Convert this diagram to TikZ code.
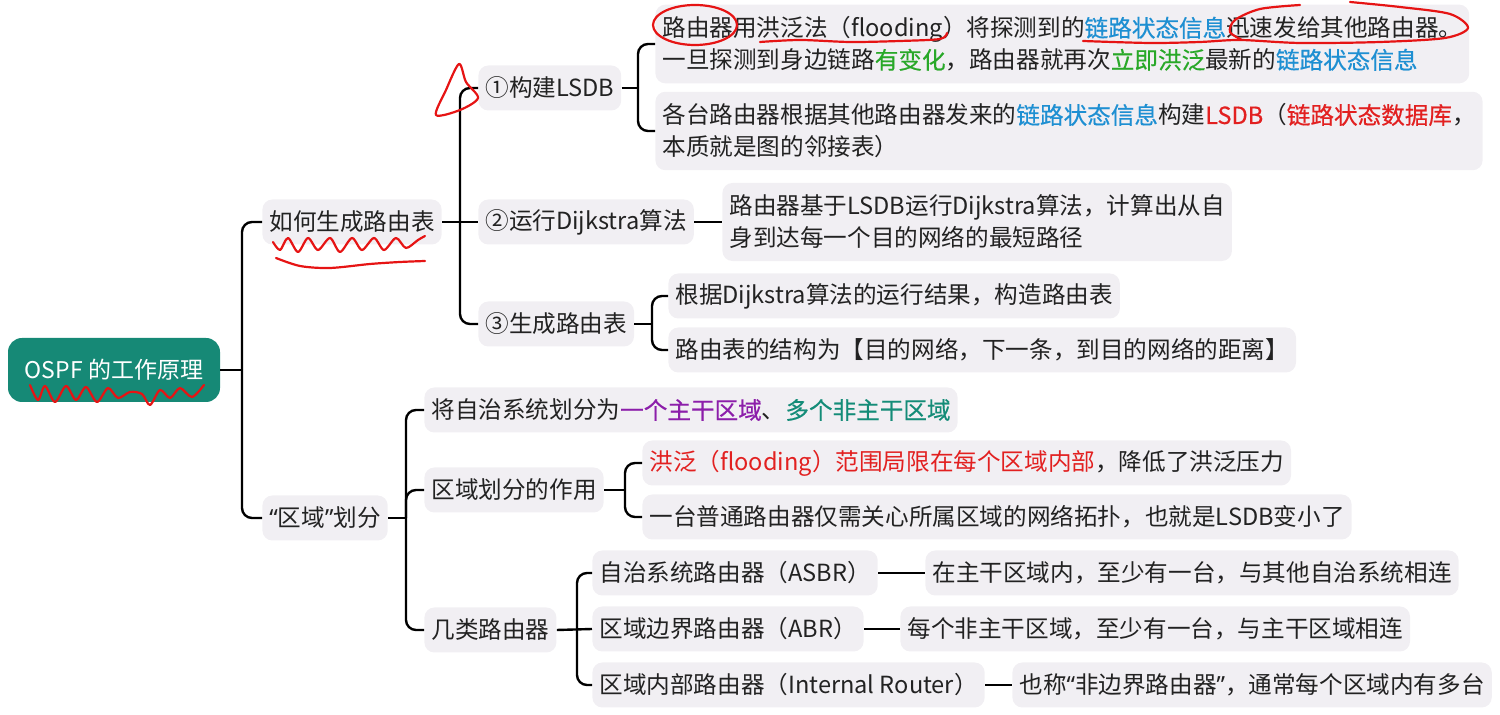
\documentclass[tikz,border=0pt]{standalone}
\usepackage{fontspec}
\setmainfont{Noto Sans CJK SC}
\newfontface\medfont{Noto Sans CJK SC}[FakeBold=0.45]
\newfontface\qfont{Noto Sans}
\usetikzlibrary{calc}
\definecolor{rootfill}{RGB}{22,137,118}
\definecolor{boxfill}{RGB}{241,239,243}
\definecolor{ctext}{RGB}{34,34,34}
\definecolor{cblue}{RGB}{30,143,210}
\definecolor{cgreen}{RGB}{40,168,40}
\definecolor{cred}{RGB}{226,32,32}
\definecolor{cpurple}{RGB}{140,30,170}
\definecolor{cteal}{RGB}{20,140,120}
\definecolor{annred}{RGB}{230,20,20}
\newcommand{\hl}[2]{\textcolor{#1}{\medfont #2}}
\newcommand{\oq}{{\qfont “}}
\newcommand{\cq}{{\qfont ”}}
\tikzset{
  box/.style={fill=boxfill, rounded corners=5pt, inner xsep=3.5pt, inner ysep=0pt,
    minimum height=22.5pt, text=ctext, font=\fontsize{11.8}{16}\selectfont, anchor=west},
  mbox/.style={box, align=left, inner ysep=6pt, minimum height=0pt},
  rootbox/.style={fill=rootfill, rounded corners=7pt, text=white, minimum width=106pt,
    minimum height=32pt, font=\fontsize{11.5}{14}\selectfont},
  conn/.style={line width=1.2pt, rounded corners=5pt},
  ann/.style={draw=annred, line width=1.1pt, line cap=round, line join=round},
}
\begin{document}
\begin{tikzpicture}[x=0.5pt,y=-0.5pt]
\useasboundingbox (0,0) rectangle (1500,715);
% nodes
\node[rootbox] (root) at (114,370) {OSPF 的工作原理};
\node[box] (c1) at (262,222) {如何生成路由表};
\node[box] (c2) at (262,518) {\oq 区域\cq 划分};
\node[box] (a1) at (478,88) {①构建LSDB};
\node[box] (a2) at (478,222) {②运行Dijkstra算法};
\node[box] (a3) at (478,324) {③生成路由表};
\node[mbox] (a1t1) at (655,44) {路由器用洪泛法（flooding）将探测到的\hl{cblue}{链路状态信息}迅速发给其他路由器。\\一旦探测到身边链路\hl{cgreen}{有变化}，路由器就再次\hl{cgreen}{立即洪泛}最新的\hl{cblue}{链路状态信息}};
\node[mbox] (a1t2) at (655,131) {各台路由器根据其他路由器发来的\hl{cblue}{链路状态信息}构建\hl{cred}{LSDB}（\hl{cred}{链路状态数据库}，\\本质就是图的邻接表）};
\node[mbox] (a2t) at (722,222) {路由器基于LSDB运行Dijkstra算法，计算出从自\\身到达每一个目的网络的最短路径};
\node[box] (a3t1) at (668,296) {根据Dijkstra算法的运行结果，构造路由表};
\node[box] (a3t2) at (668,350) {路由表的结构为【目的网络，下一条，到目的网络的距离】};
\node[box] (b1) at (424,410) {将自治系统划分为\hl{cpurple}{一个主干区域}、\hl{cteal}{多个非主干区域}};
\node[box] (b2) at (424,490) {区域划分的作用};
\node[box] (b3) at (424,630) {几类路由器};
\node[box] (b2t1) at (642,463) {\textcolor{cred}{洪泛（flooding）范围局限在每个区域内部}，降低了洪泛压力};
\node[box] (b2t2) at (642,517) {一台普通路由器仅需关心所属区域的网络拓扑，也就是LSDB变小了};
\node[box] (r1) at (592,573) {自治系统路由器（ASBR）};
\node[box] (r2) at (592,629) {区域边界路由器（ABR）};
\node[box] (r3) at (592,685) {区域内部路由器（Internal Router）};
\node[box] (r1t) at (925,573) {在主干区域内，至少有一台，与其他自治系统相连};
\node[box] (r2t) at (900,629) {每个非主干区域，至少有一台，与主干区域相连};
\node[box] (r3t) at (1012,685) {也称\oq 非边界路由器\cq，通常每个区域内有多台};
% spine coordinates
\coordinate (s0) at (242,370);
\coordinate (s1) at (460,222);
\coordinate (s2) at (638,88);
\coordinate (s3) at (652,324);
\coordinate (sB) at (406,518);
\coordinate (sB2) at (625,490);
\coordinate (sB3) at (577,630);
% connectors
\draw[conn] (root.east) -- (s0);
\draw[conn] (s0) |- (c1.west);
\draw[conn] (s0) |- (c2.west);
\draw[conn] (c1.east) -- (a2.west);
\draw[conn] (s1) |- (a1.west);
\draw[conn] (s1) |- (a3.west);
\draw[conn] (a1.east) -- (s2);
\draw[conn] (s2) |- (a1t1.west);
\draw[conn] (s2) |- (a1t2.west);
\draw[conn] (a2.east) -- (a2t.west);
\draw[conn] (a3.east) -- (s3);
\draw[conn] (s3) |- (a3t1.west);
\draw[conn] (s3) |- (a3t2.west);
\draw[conn] (c2.east) -- (sB);
\draw[conn] (sB) |- (b1.west);
\draw[conn] (sB) |- (b2.west);
\draw[conn] (sB) |- (b3.west);
\draw[conn] (b2.east) -- (sB2);
\draw[conn] (sB2) |- (b2t1.west);
\draw[conn] (sB2) |- (b2t2.west);
\draw[conn] (b3.east) -- (r2.west);
\draw[conn] (sB3) |- (r1.west);
\draw[conn] (sB3) |- (r3.west);
\draw[conn] (r1.east) -- (r1t.west);
\draw[conn] (r2.east) -- (r2t.west);
\draw[conn] (r3.east) -- (r3t.west);
% red hand annotations
\draw[ann] (695,25) ellipse [x radius=42, y radius=20];
\draw[ann] plot[smooth] coordinates {(760,42) (800,40) (850,42) (900,41) (940,39) (947,33)};
\draw[ann] plot[smooth] coordinates {(1083,41) (1150,43) (1200,42) (1240,40) (1300,43) (1380,42) (1445,38) (1468,28) (1450,14) (1400,7) (1350,2)};
\draw[ann] plot[smooth] coordinates {(1300,5) (1260,9) (1235,20) (1230,32) (1242,40)};
\draw[ann] plot[smooth cycle] coordinates {(459,64) (446,90) (436,115) (460,110) (478,98) (466,82)};
\draw[ann] plot[smooth] coordinates {(273,242) (280,250) (288,238) (298,252) (308,238) (318,250) (330,238) (340,252) (352,238) (362,250) (374,238) (384,250) (396,238) (406,248) (418,240) (425,236)};
\draw[ann] plot[smooth] coordinates {(276,258) (300,266) (330,268) (370,264) (400,262) (425,261)};
\draw[ann] plot[smooth] coordinates {(30,385) (38,400) (45,386) (55,402) (66,386) (76,400) (86,387) (97,402) (108,388) (118,398) (130,392) (142,394) (150,405) (160,390) (170,398) (180,388) (192,397) (204,385)};
\end{tikzpicture}
\end{document}
